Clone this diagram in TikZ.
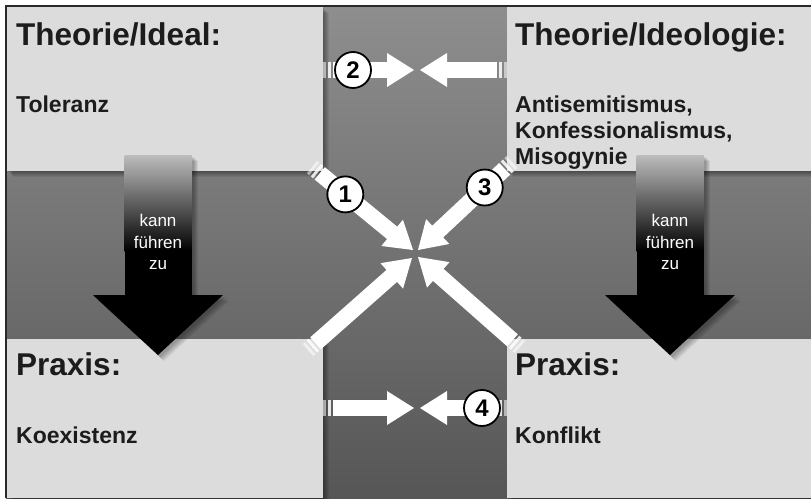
\documentclass[tikz,border=0pt]{standalone}
\usepackage{fontspec}
\setmainfont{Liberation Sans}
\usetikzlibrary{calc}
\definecolor{boxgray}{HTML}{DCDCDC}
\definecolor{bgtop}{HTML}{8E8E8E}
\definecolor{bgbot}{HTML}{565656}
\definecolor{txt}{HTML}{1C1C1C}
\definecolor{framecol}{HTML}{2A2A2A}
\definecolor{shafttop}{HTML}{BDBDBD}
\tikzset{
  panel/.style={fill=boxgray},
  title/.style={anchor=base west, inner sep=0pt, font=\fontsize{31.5}{36}\selectfont\bfseries, text=txt},
  sub/.style={anchor=base west, inner sep=0pt, font=\fontsize{23}{27}\selectfont\bfseries, text=txt},
  num/.style={circle, draw=black, line width=1.8pt, fill=white, minimum size=36pt, inner sep=0pt, font=\fontsize{24}{26}\selectfont\bfseries},
  stripeA/.style={draw=white, draw opacity=0.55, line width=16pt},
  stripeB/.style={draw=white, draw opacity=0.85, line width=16pt},
  shaftline/.style={draw=white, line width=16pt},
  lead/.style={text=white, font=\fontsize{17}{21.5}\selectfont, align=center, inner sep=0pt},
  softshadow/.style={fill=black, opacity=0.07},
}
\newcommand\fatarrow[2]{%
  \coordinate (hb) at ($(#2)!27pt!(#1)$);
  \coordinate (hs) at ($(#2)!26pt!(#1)$);
  \draw[stripeA] (#1) -- ($(#1)!3pt!(#2)$);
  \draw[stripeB] ($(#1)!5pt!(#2)$) -- ($(#1)!8pt!(#2)$);
  \draw[shaftline] ($(#1)!10pt!(#2)$) -- (hs);
  \fill[white] (#2) -- ($(hb)!17pt!90:(#2)$) -- ($(hb)!17pt!-90:(#2)$) -- cycle;
}
\newcommand\panelshadow[2]{%
  \foreach \d in {1,...,6} {\fill[softshadow] ($(#1)+(\d,\d)$) rectangle ($(#2)+(\d,\d)$);}
}
\newcommand\bigdown[1]{% #1 = x centre
  \foreach \d in {2,...,6} {\fill[softshadow] ($(#1-33.5,155)+(\d,\d)$) rectangle ($(#1+33.5,296)+(\d,\d)$);
    \fill[softshadow] ($(#1-65,295)+(\d,\d)$) -- ($(#1+65,295)+(\d,\d)$) -- ($(#1,355)+(\d,\d)$) -- cycle;}
  \shade[top color=shafttop, bottom color=black] (#1-33.5,155) rectangle (#1+33.5,251);
  \fill[black] (#1-33.5,250) rectangle (#1+33.5,296);
  \fill[black] (#1-65,295) -- (#1+65,295) -- (#1,355) -- cycle;
}
\begin{document}
\begin{tikzpicture}[x=1pt,y=-1pt]
\useasboundingbox (0,0) rectangle (811,498);
\fill[white] (0,0) rectangle (811,498);
\shade[top color=bgtop, bottom color=bgbot] (6,6) rectangle (811,498);
\draw[framecol, line width=2pt] (5.5,498) -- (5.5,5.5) -- (811,5.5);

% panel shadows
\panelshadow{7,7}{323,171}
\panelshadow{507,7}{811,171}
\panelshadow{7,339}{323,498}
\panelshadow{507,339}{811,498}
% panels
\fill[panel] (7,7) rectangle (323,171) coordinate (tlbox);
\fill[panel] (507,7) rectangle (811,171) coordinate (trbox);
\fill[panel] (7,339) rectangle (323,498) coordinate (blbox);
\fill[panel] (507,339) rectangle (811,498) coordinate (brbox);

% big "kann fuehren zu" arrows
\bigdown{158}
\bigdown{670}
\node[lead] (leadL) at (158,242) {kann\\führen\\zu};
\node[lead] (leadR) at (670,242) {kann\\führen\\zu};

% texts
\node[title] (tTL) at (16,45) {Theorie/Ideal:};
\node[sub] (sTL) at (16,112) {Toleranz};
\node[title] (tTR) at (515,45) {Theorie/Ideologie:};
\node[sub] (sTR1) at (515,112) {Antisemitismus,};
\node[sub] (sTR2) at (515,138) {Konfessionalismus,};
\node[sub] (sTR3) at (515,164) {Misogynie};
\node[title] (tBL) at (16,375) {Praxis:};
\node[sub] (sBL) at (16,443) {Koexistenz};
\node[title] (tBR) at (515,375) {Praxis:};
\node[sub] (sBR) at (515,443) {Konflikt};

% white arrows
\coordinate (t2a) at (323,70);  \coordinate (p2a) at (414,70);
\coordinate (t2b) at (507,70);  \coordinate (p2b) at (420,70);
\coordinate (t4a) at (323,408); \coordinate (p4a) at (414,408);
\coordinate (t4b) at (507,408); \coordinate (p4b) at (420,408);
\coordinate (t1) at (312,167);  \coordinate (p1) at (413,250);
\coordinate (t3) at (512,162);  \coordinate (p3) at (418,250);
\coordinate (tll) at (308,350); \coordinate (pll) at (412,258);
\coordinate (tlr) at (520,347); \coordinate (plr) at (418,257);
\fatarrow{t2a}{p2a}
\fatarrow{t2b}{p2b}
\fatarrow{t4a}{p4a}
\fatarrow{t4b}{p4b}
\fatarrow{t1}{p1}
\fatarrow{t3}{p3}
\fatarrow{tll}{pll}
\fatarrow{tlr}{plr}

% numbered circles
\node[num] (c1) at ($(t1)!0.33!(p1)$) {1};
\node[num] (c2) at (353,70) {2};
\node[num] (c3) at ($(t3)!0.29!(p3)$) {3};
\node[num] (c4) at (482,408) {4};
\end{tikzpicture}
\end{document}
